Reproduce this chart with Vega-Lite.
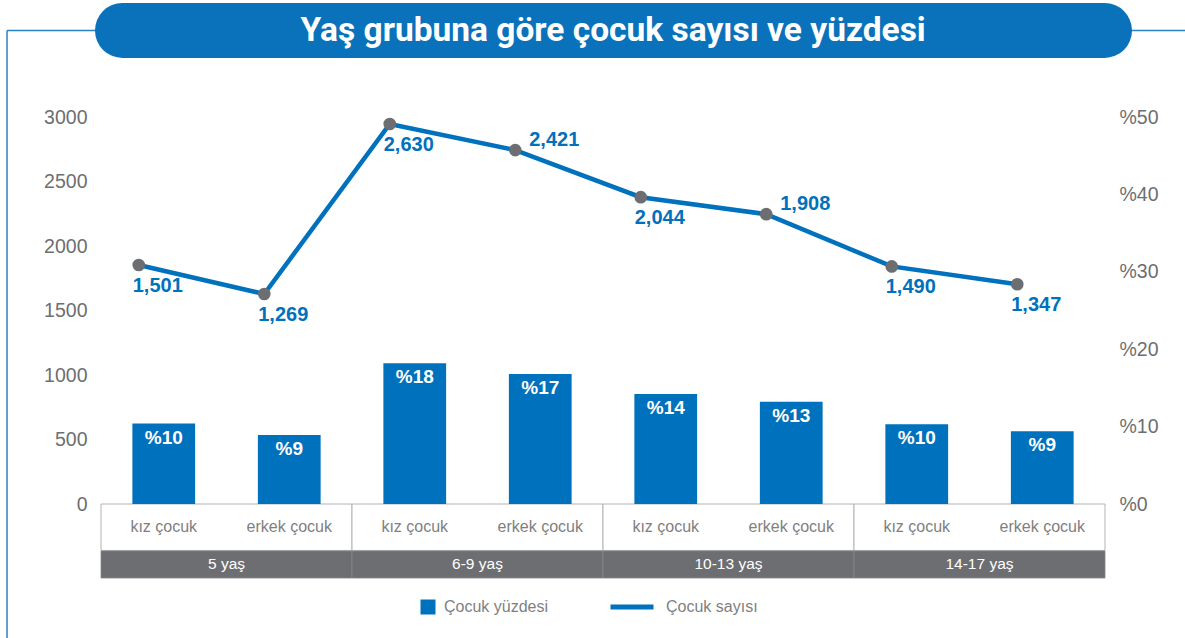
{
  "$schema": "https://vega.github.io/schema/vega-lite/v6.json",
  "width": 1004,
  "height": 387,
  "autosize": {"type": "none"},
  "padding": {"left": 101, "top": 117, "right": 80, "bottom": 134},
  "background": "white",
  "config": {"view": {"stroke": null}, "font": "Liberation Sans"},
  "data": {
    "values": [
      {"group": "5 yaş", "gender": "kız çocuk", "cat": "5 yaş - kız çocuk", "count": 1501, "pct": 10.4, "pctLabel": "%10"},
      {"group": "5 yaş", "gender": "erkek çocuk", "cat": "5 yaş - erkek çocuk", "count": 1269, "pct": 8.9, "pctLabel": "%9"},
      {"group": "6-9 yaş", "gender": "kız çocuk", "cat": "6-9 yaş - kız çocuk", "count": 2630, "pct": 18.2, "pctLabel": "%18"},
      {"group": "6-9 yaş", "gender": "erkek çocuk", "cat": "6-9 yaş - erkek çocuk", "count": 2421, "pct": 16.8, "pctLabel": "%17"},
      {"group": "10-13 yaş", "gender": "kız çocuk", "cat": "10-13 yaş - kız çocuk", "count": 2044, "pct": 14.2, "pctLabel": "%14"},
      {"group": "10-13 yaş", "gender": "erkek çocuk", "cat": "10-13 yaş - erkek çocuk", "count": 1908, "pct": 13.2, "pctLabel": "%13"},
      {"group": "14-17 yaş", "gender": "kız çocuk", "cat": "14-17 yaş - kız çocuk", "count": 1490, "pct": 10.3, "pctLabel": "%10"},
      {"group": "14-17 yaş", "gender": "erkek çocuk", "cat": "14-17 yaş - erkek çocuk", "count": 1347, "pct": 9.4, "pctLabel": "%9"}
    ]
  },
  "layer": [
    {
      "data": {"values": [{"title": "Yaş grubuna göre çocuk sayısı ve yüzdesi"}]},
      "layer": [
        {
          "mark": {"type": "rule", "color": "#2a82c6", "strokeWidth": 1.5},
          "encoding": {
            "x": {"datum": -0.0936, "type": "quantitative", "scale": {"domain": [0, 1], "nice": false, "zero": false}, "axis": null},
            "x2": {"datum": 1.1},
            "y": {"datum": 3671, "type": "quantitative", "scale": {"domain": [0, 3000], "nice": false}, "axis": null}
          }
        },
        {
          "mark": {"type": "rule", "color": "#2a82c6", "strokeWidth": 1.5},
          "encoding": {
            "x": {"datum": -0.0936, "type": "quantitative"},
            "y": {"datum": 3671, "type": "quantitative"},
            "y2": {"datum": -1100}
          }
        },
        {
          "mark": {"type": "rule", "color": "#0a72ba", "strokeWidth": 55, "strokeCap": "round"},
          "encoding": {
            "x": {"datum": 0.0214, "type": "quantitative"},
            "x2": {"datum": 0.9995},
            "y": {"datum": 3671, "type": "quantitative"}
          }
        },
        {
          "mark": {"type": "text", "color": "white", "font": "Roboto", "fontWeight": "bold", "fontSize": 33.5, "align": "center", "baseline": "middle", "dy": 1},
          "encoding": {
            "x": {"datum": 0.51, "type": "quantitative"},
            "y": {"datum": 3671, "type": "quantitative"},
            "text": {"field": "title"}
          }
        }
      ]
    },
    {
      "transform": [{"aggregate": [{"op": "count", "as": "n"}], "groupby": ["group"]}],
      "encoding": {
        "x": {"field": "group", "type": "nominal", "scale": {"domain": ["5 yaş", "6-9 yaş", "10-13 yaş", "14-17 yaş"], "paddingInner": 0, "paddingOuter": 0}, "axis": null}
      },
      "layer": [
        {
          "mark": {"type": "rect", "fill": "white", "stroke": "#b3b3b3", "strokeWidth": 1},
          "encoding": {
            "y": {"datum": 0, "type": "quantitative", "scale": {"domain": [0, 3000], "nice": false},
              "axis": {"orient": "left", "values": [0, 500, 1000, 1500, 2000, 2500, 3000], "format": "d", "domain": false, "ticks": false, "grid": false, "labelFontSize": 19.5, "labelColor": "#6d6e71", "labelPadding": 14, "title": null}},
            "y2": {"datum": -360}
          }
        },
        {
          "mark": {"type": "rect", "fill": "#6d6e71", "stroke": "#858689", "strokeWidth": 0.8},
          "encoding": {
            "y": {"datum": -364, "type": "quantitative"},
            "y2": {"datum": -574}
          }
        },
        {
          "mark": {"type": "text", "color": "white", "fontSize": 15.5, "baseline": "middle"},
          "encoding": {
            "y": {"datum": -465, "type": "quantitative"},
            "text": {"field": "group"}
          }
        }
      ]
    },
    {
      "encoding": {
        "x": {"field": "cat", "type": "nominal", "sort": null, "scale": {"paddingInner": 0.5, "paddingOuter": 0.25}, "axis": null}
      },
      "layer": [
        {
          "mark": {"type": "bar", "color": "#0071bc"},
          "encoding": {
            "y": {"field": "pct", "type": "quantitative", "scale": {"domain": [0, 50], "nice": false},
              "axis": {"orient": "right", "values": [0, 10, 20, 30, 40, 50], "labelExpr": "'%' + datum.value", "domain": false, "ticks": false, "grid": false, "labelFontSize": 19.5, "labelColor": "#6d6e71", "labelPadding": 14, "title": null}},
            "fill": {"datum": "Çocuk yüzdesi", "type": "nominal", "scale": {"range": ["#0071bc"]},
              "legend": {"title": null, "orient": "none", "legendX": 319, "legendY": 482, "symbolType": "square", "symbolSize": 225, "symbolStrokeWidth": 0, "labelFontSize": 16, "labelColor": "#7f7f7f", "labelOffset": 8, "padding": 0}}
          }
        },
        {
          "mark": {"type": "text", "color": "white", "fontWeight": "bold", "fontSize": 19, "baseline": "middle", "dy": 14},
          "encoding": {
            "y": {"field": "pct", "type": "quantitative"},
            "text": {"field": "pctLabel"}
          }
        },
        {
          "mark": {"type": "text", "color": "#7f7f7f", "fontSize": 16, "baseline": "middle"},
          "encoding": {
            "y": {"datum": -2.97, "type": "quantitative"},
            "text": {"field": "gender"}
          }
        }
      ]
    },
    {
      "encoding": {
        "x": {"field": "cat", "type": "nominal", "sort": null, "scale": {"paddingInner": 0.5, "paddingOuter": 0.25}, "axis": null},
        "y": {"field": "count", "type": "quantitative", "scale": {"domain": [-412, 2686], "nice": false, "zero": false}, "axis": null}
      },
      "layer": [
        {
          "mark": {"type": "line", "strokeWidth": 4.5, "xOffset": -25},
          "encoding": {
            "order": {"value": null},
            "stroke": {"datum": "Çocuk sayısı", "type": "nominal", "scale": {"range": ["#0071bc"]},
              "legend": {"title": null, "orient": "none", "legendX": 507, "legendY": 466, "symbolType": "stroke", "symbolSize": 1849, "symbolStrokeWidth": 5, "labelFontSize": 16, "labelColor": "#7f7f7f", "labelOffset": 10, "padding": 0}}
          }
        },
        {
          "mark": {"type": "point", "filled": true, "color": "#6d6e71", "size": 160, "opacity": 1, "xOffset": -25}
        },
        {
          "transform": [{"filter": {"not": {"field": "cat", "oneOf": ["6-9 yaş - erkek çocuk", "10-13 yaş - erkek çocuk"]}}}],
          "mark": {"type": "text", "color": "#0071bc", "fontWeight": "bold", "fontSize": 20, "baseline": "middle", "xOffset": -25, "dx": 19, "dy": 21},
          "encoding": {"text": {"field": "count", "type": "quantitative", "format": ","}}
        },
        {
          "transform": [{"filter": {"field": "cat", "oneOf": ["6-9 yaş - erkek çocuk", "10-13 yaş - erkek çocuk"]}}],
          "mark": {"type": "text", "color": "#0071bc", "fontWeight": "bold", "fontSize": 20, "baseline": "middle", "xOffset": -25, "dx": 39, "dy": -10},
          "encoding": {"text": {"field": "count", "type": "quantitative", "format": ","}}
        }
      ]
    }
  ],
  "resolve": {"scale": {"x": "independent", "y": "independent", "fill": "independent", "stroke": "independent"}}
}
